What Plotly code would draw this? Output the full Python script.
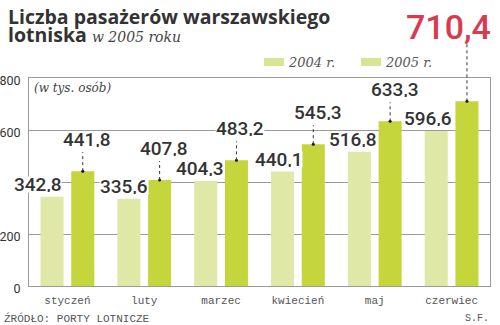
import plotly.graph_objects as go

months = ["styczeń", "luty", "marzec", "kwiecień", "maj", "czerwiec"]
y2004 = [342.8, 335.6, 404.3, 440.1, 516.8, 596.6]
y2005 = [441.8, 407.8, 483.2, 545.3, 633.3, 710.4]
yticks = [0, 200, 400, 600, 800]
ytick_text = ["0", "200", "", "600", "800"]  # "400" is covered by a value label in the original
series_names = ["2004 r.", "2005 r."]

# label horizontal nudges (pixels) for the 2004 values, as placed in the original
lab_dx_2004 = [-15, -5, -6, -4, -7, -8]

LIGHT = "#dfe8a6"
DARK = "#c4d63b"
LEG = "#d9e495"
RED = "#d83a50"
TXT = "#333333"
GRID = "#9a9a9a"

W, H = 500, 325
L, R, T, B = 29, 10, 78, 39
PW, PH = W - L - R, H - T - B
YMAX = 800


def px(x):
    return (x - L) / PW


def py(y):
    return (H - B - y) / PH


def fmt(v):
    return f"{v:.1f}".replace(".", ",")


xs = list(range(len(months)))
fig = go.Figure()
fig.add_trace(go.Bar(x=xs, y=y2004, width=0.3, offset=-0.35, marker_color=LIGHT,
                     marker_line_width=0, name=series_names[0], hoverinfo="skip"))
fig.add_trace(go.Bar(x=xs, y=y2005, width=0.3, offset=0.05, marker_color=DARK,
                     marker_line_width=0, name=series_names[1], hoverinfo="skip"))
fig.add_trace(go.Scatter(x=[i + 0.2 for i in xs], y=y2005, mode="markers",
                         marker=dict(size=3, color="#111"), hoverinfo="skip"))

annotations = []
shapes = []
vfont = dict(family="Roboto", size=19, color=TXT, weight=500)
imax = max(xs, key=lambda i: y2005[i])
for i in xs:
    annotations.append(dict(x=i - 0.2, y=y2004[i], xref="x", yref="y", text=fmt(y2004[i]),
                            showarrow=False, yanchor="bottom", xanchor="center",
                            height=15, valign="middle", bgcolor="white", borderpad=0,
                            xshift=lab_dx_2004[i], yshift=4, font=vfont))
    if i == imax:
        lead = 61
        annotations.append(dict(x=i + 0.2, y=y2005[i], xref="x", yref="y", text=fmt(y2005[i]),
                                showarrow=False, yanchor="bottom", xanchor="center",
                                xshift=-18, yshift=52,
                                font=dict(family="Roboto", size=34, color=RED, weight=500)))
    else:
        lead = 19
        annotations.append(dict(x=i + 0.2, y=y2005[i], xref="x", yref="y", text=fmt(y2005[i]),
                                showarrow=False, yanchor="bottom", xanchor="center",
                                height=15, valign="middle", bgcolor="white", borderpad=0,
                                xshift=4, yshift=23, font=vfont))
    shapes.append(dict(type="line", xref="x", yref="paper", x0=i + 0.2, x1=i + 0.2,
                       ysizemode="pixel", yanchor=y2005[i] / YMAX, y0=0, y1=lead,
                       line=dict(color="#333", width=1, dash="dot")))

# title
annotations.append(dict(x=px(6), y=py(26), xref="paper", yref="paper", xanchor="left",
                        yanchor="bottom", showarrow=False, yshift=-6,
                        text="<b>Liczba pasażerów warszawskiego</b>",
                        font=dict(family="Open Sans", size=19.5, color=TXT)))
annotations.append(dict(x=px(6), y=py(44), xref="paper", yref="paper", xanchor="left",
                        yanchor="bottom", showarrow=False, yshift=-6,
                        text="<b>lotniska</b> <span style='font-family:DejaVu Serif;font-size:14px;font-weight:normal;color:#444'><i>w 2005 roku</i></span>",
                        font=dict(family="Open Sans", size=19.5, color=TXT)))
# unit note
annotations.append(dict(x=px(32), y=py(88), xref="paper", yref="paper", xanchor="left",
                        yanchor="middle", showarrow=False,
                        text="<i>(w tys. osób)</i>",
                        font=dict(family="DejaVu Serif", size=12, color="#444")))
# legend
for name, sx, tx in [(series_names[0], 264, 286), (series_names[1], 361, 383)]:
    shapes.append(dict(type="rect", xref="paper", yref="paper", x0=px(sx), x1=px(sx + 20),
                       y0=py(66), y1=py(58), fillcolor=LEG, line_width=0))
    annotations.append(dict(x=px(tx), y=py(62), xref="paper", yref="paper", xanchor="left",
                            yanchor="middle", showarrow=False, text=f"<i>{name}</i>",
                            font=dict(family="DejaVu Serif", size=13, color="#555")))
# source
annotations.append(dict(x=px(2), y=py(318), xref="paper", yref="paper", xanchor="left",
                        yanchor="middle", showarrow=False, text="ŹRÓDŁO: PORTY LOTNICZE",
                        font=dict(family="Liberation Mono", size=11, color="#555")))
annotations.append(dict(x=px(491), y=py(318), xref="paper", yref="paper", xanchor="right",
                        yanchor="middle", showarrow=False, text="S.F.",
                        font=dict(family="Liberation Mono", size=10, color="#555")))

fig.update_layout(
    width=W, height=H, margin=dict(l=L, r=R, t=T, b=B, pad=0, autoexpand=False),
    paper_bgcolor="white", plot_bgcolor="white", showlegend=False,
    annotations=annotations, shapes=shapes,
    xaxis=dict(range=[-0.5, 5.5], tickmode="array", tickvals=xs, ticktext=months,
               showgrid=False, showline=True, mirror=True, linecolor=GRID, linewidth=1,
               ticks="", zeroline=False, fixedrange=True, automargin=False,
               ticklabelstandoff=4,
               tickfont=dict(family="Liberation Mono", size=11, color="#555")),
    yaxis=dict(range=[0, YMAX], tickmode="array", tickvals=yticks, ticktext=ytick_text,
               showgrid=True, gridcolor=GRID, gridwidth=1, showline=True, mirror=True,
               linecolor=GRID, linewidth=1, ticks="", zeroline=False, fixedrange=True,
               automargin=False, ticklabelstandoff=5, ticklabelshift=3,
               tickfont=dict(family="Roboto", size=12.5, color=TXT)),
)
fig.write_html("out.html")
